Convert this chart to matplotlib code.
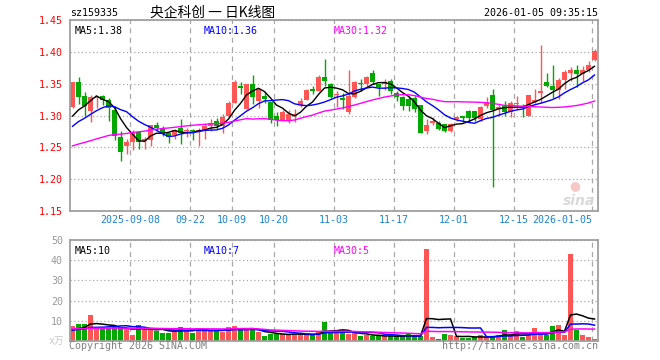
import numpy as np
import pandas as pd
import matplotlib
matplotlib.use('Agg')
import matplotlib.pyplot as plt

plt.rcParams['font.family'] = ['DejaVu Sans Mono', 'Noto Sans CJK SC']

# daily candles 2025-08-25 .. 2026-01-05
opens = [1.313, 1.352, 1.330, 1.307, 1.327, 1.331, 1.324, 1.309, 1.267, 1.252,
         1.258, 1.274, 1.260, 1.262, 1.285, 1.281, 1.273, 1.270, 1.280, 1.275,
         1.277, 1.275, 1.276, 1.284, 1.292, 1.283, 1.299, 1.319, 1.347, 1.310,
         1.349, 1.323, 1.331, 1.321, 1.299, 1.292, 1.292, 1.300, 1.316, 1.325,
         1.341, 1.338, 1.360, 1.350, 1.332, 1.327, 1.306, 1.329, 1.350, 1.350,
         1.366, 1.350, 1.350, 1.354, 1.335, 1.329, 1.326, 1.327, 1.316, 1.276,
         1.288, 1.288, 1.286, 1.276, 1.295, 1.299, 1.307, 1.307, 1.294, 1.315,
         1.332, 1.310, 1.315, 1.305, 1.318, 1.313, 1.300, 1.321, 1.336, 1.353,
         1.346, 1.340, 1.356, 1.366, 1.371, 1.3645, 1.371, 1.387]
highs = [1.353, 1.360, 1.337, 1.332, 1.330, 1.332, 1.328, 1.315, 1.275, 1.263,
         1.277, 1.274, 1.267, 1.285, 1.290, 1.284, 1.273, 1.279, 1.294, 1.281,
         1.279, 1.280, 1.286, 1.294, 1.296, 1.302, 1.323, 1.355, 1.353, 1.349,
         1.363, 1.341, 1.337, 1.321, 1.306, 1.308, 1.308, 1.310, 1.327, 1.341,
         1.346, 1.363, 1.388, 1.351, 1.339, 1.336, 1.371, 1.354, 1.358, 1.362,
         1.371, 1.350, 1.357, 1.357, 1.339, 1.330, 1.331, 1.331, 1.317, 1.294,
         1.297, 1.292, 1.287, 1.289, 1.300, 1.300, 1.309, 1.307, 1.315, 1.329,
         1.341, 1.316, 1.323, 1.323, 1.330, 1.318, 1.332, 1.341, 1.411, 1.367,
         1.379, 1.359, 1.371, 1.376, 1.379, 1.3775, 1.385, 1.405]
lows = [1.312, 1.318, 1.300, 1.290, 1.311, 1.316, 1.292, 1.262, 1.229, 1.240,
        1.246, 1.248, 1.247, 1.252, 1.278, 1.268, 1.257, 1.263, 1.255, 1.266,
        1.262, 1.252, 1.263, 1.276, 1.279, 1.273, 1.297, 1.319, 1.333, 1.310,
        1.318, 1.312, 1.320, 1.289, 1.284, 1.292, 1.289, 1.290, 1.313, 1.324,
        1.333, 1.338, 1.346, 1.328, 1.313, 1.310, 1.302, 1.327, 1.338, 1.345,
        1.349, 1.331, 1.340, 1.333, 1.323, 1.308, 1.307, 1.305, 1.272, 1.271,
        1.285, 1.278, 1.274, 1.274, 1.292, 1.290, 1.290, 1.291, 1.292, 1.3125,
        1.188, 1.300, 1.299, 1.298, 1.310, 1.298, 1.300, 1.319, 1.320, 1.344,
        1.327, 1.326, 1.341, 1.354, 1.344, 1.354, 1.368, 1.385]
closes = [1.352, 1.329, 1.315, 1.329, 1.329, 1.325, 1.311, 1.268, 1.243, 1.259,
          1.273, 1.259, 1.263, 1.285, 1.281, 1.272, 1.267, 1.277, 1.273, 1.277,
          1.275, 1.277, 1.283, 1.289, 1.283, 1.298, 1.319, 1.352, 1.343, 1.349,
          1.329, 1.341, 1.326, 1.293, 1.293, 1.305, 1.302, 1.303, 1.323, 1.340,
          1.338, 1.361, 1.354, 1.329, 1.333, 1.325, 1.331, 1.352, 1.349, 1.360,
          1.352, 1.345, 1.353, 1.338, 1.329, 1.315, 1.315, 1.310, 1.273, 1.285,
          1.292, 1.279, 1.276, 1.287, 1.298, 1.296, 1.296, 1.296, 1.314, 1.320,
          1.309, 1.313, 1.305, 1.319, 1.319, 1.311, 1.332, 1.325, 1.339, 1.347,
          1.340, 1.356, 1.368, 1.371, 1.3645, 1.371, 1.379, 1.401]
# volume, 万手
volumes = [7.5, 8.3, 8.3, 12.8, 6.2, 6.2, 6.2, 7.2, 6.7, 6.2,
           2.8, 7.8, 6.2, 6.2, 4.8, 4.0, 4.0, 5.3, 6.8, 5.3,
           4.0, 6.5, 5.3, 5.3, 5.3, 4.3, 6.8, 7.3, 5.3, 6.2,
           5.3, 4.3, 2.3, 3.3, 3.7, 3.7, 3.2, 3.2, 3.2, 3.2,
           3.2, 4.5, 9.3, 4.5, 4.0, 5.3, 3.3, 4.0, 2.3, 2.8,
           2.3, 2.8, 2.3, 2.3, 2.3, 2.3, 3.3, 2.3, 2.3, 45.3,
           2.0, 1.2, 3.3, 2.8, 2.3, 1.5, 1.5, 2.0, 2.8, 2.0,
           2.0, 2.8, 5.3, 2.8, 4.8, 2.0, 3.0, 6.3, 3.0, 3.0,
           7.3, 7.8, 3.0, 43.3, 5.3, 3.0, 2.0, 0.8]

# 29 days before the window (only used to warm up the moving averages)
pre_close = [1.245, 1.240, 1.246, 1.242, 1.247, 1.230, 1.225, 1.222, 1.228, 1.225,
             1.228, 1.232, 1.236, 1.240, 1.238, 1.242, 1.245, 1.240, 1.243, 1.246,
             1.255, 1.262, 1.268, 1.272, 1.278, 1.280, 1.284, 1.288, 1.291]
pre_volume = [6.5, 7.0, 5.8, 6.2, 6.8, 5.5, 6.0, 7.2, 6.4, 5.9,
              6.6, 6.1, 5.7, 6.9, 6.3, 5.8, 6.0, 6.5, 6.2, 5.9,
              5.5, 6.2, 5.8, 5.4, 5.6, 4.6, 5.0, 4.4, 5.0]

tick_pos = [10, 20, 27, 34, 44, 54, 64, 74, 87]
tick_labels = ['2025-09-08', '09-22', '10-09', '10-20', '11-03',
               '11-17', '12-01', '12-15', '2026-01-05']

RED = '#ff5555'
GREEN = '#00a800'
GRID = '#a8a8a8'
SPINE = '#a0a0a0'
MONO = 7.2

n = len(closes)
x = np.arange(n)
bw = 5 / 6
xc = x + bw / 2
up = np.array(closes) >= np.array(opens)
cols = [RED if u else GREEN for u in up]

c_all = pd.Series(pre_close + closes)
v_all = pd.Series(pre_volume + volumes)
ma = {k: c_all.rolling(k).mean().to_numpy()[len(pre_close):] for k in (5, 10, 30)}
vma = {k: v_all.rolling(k).mean().to_numpy()[len(pre_volume):] for k in (5, 10, 30)}
ma_cols = {5: 'black', 10: '#0000ff', 30: '#ff00ff'}

W, H = 660, 360
fig = plt.figure(figsize=(W / 100, H / 100), dpi=100)
ax1 = fig.add_axes([70 / W, 1 - 211 / H, 528 / W, 191 / H])
ax2 = fig.add_axes([70 / W, 1 - 341 / H, 528 / W, 101 / H])

# candles
o = np.array(opens)
c = np.array(closes)
bottom = np.minimum(o, c)
height = np.maximum(np.abs(c - o), 0.0015)
ax1.vlines(xc, lows, highs, colors=cols, linewidth=1)
ax1.bar(x, height, bottom=bottom, width=bw, align='edge', color=cols, linewidth=0)
for k in (5, 10, 30):
    ax1.plot(xc, ma[k], color=ma_cols[k], linewidth=1)

# volume
ax2.bar(x, volumes, width=bw, align='edge', color=cols, linewidth=0)
for k in (5, 10, 30):
    ax2.plot(xc, vma[k], color=ma_cols[k], linewidth=1.1)

for ax in (ax1, ax2):
    ax.set_xlim(0, n)
    for s in ax.spines.values():
        s.set_color(SPINE)
        s.set_linewidth(1.3)
    ax.set_xticks(tick_pos)
    ax.tick_params(length=0)
    ax.grid(axis='x', color=GRID, linestyle=(0, (4, 3.5)), linewidth=0.9)
    ax.grid(axis='y', color=GRID, linestyle=(0, (1, 2)), linewidth=0.9)
    ax.set_axisbelow(True)

ax1.set_ylim(1.15, 1.45)
ax1.set_yticks(np.arange(1.15, 1.451, 0.05))
ax1.set_yticklabels(['%.2f' % v for v in np.arange(1.15, 1.451, 0.05)],
                    color='#ff0000', fontsize=MONO)
ax1.set_xticklabels(tick_labels, color='#1a86d0', fontsize=MONO)
ax1.get_xticklabels()[-1].set_ha('right')
ax1.tick_params(axis='x', pad=3)
ax1.tick_params(axis='y', pad=5)

ax2.set_ylim(0, 50)
ax2.set_yticks([10, 20, 30, 40, 50])
ax2.set_yticklabels(['10', '20', '30', '40', '50'], color='#999999', fontsize=MONO)
ax2.set_xticklabels([])
ax2.tick_params(axis='y', pad=5)

# text in the panels
ax1.text(0.008, 0.97, 'MA5:1.38', transform=ax1.transAxes, color='black',
         fontsize=MONO, va='top')
ax1.text(0.254, 0.97, 'MA10:1.36', transform=ax1.transAxes, color='#0000ff',
         fontsize=MONO, va='top')
ax1.text(0.5, 0.97, 'MA30:1.32', transform=ax1.transAxes, color='#ff00ff',
         fontsize=MONO, va='top')
ax2.text(0.008, 0.94, 'MA5:10', transform=ax2.transAxes, color='black',
         fontsize=MONO, va='top')
ax2.text(0.254, 0.94, 'MA10:7', transform=ax2.transAxes, color='#0000ff',
         fontsize=MONO, va='top')
ax2.text(0.5, 0.94, 'MA30:5', transform=ax2.transAxes, color='#ff00ff',
         fontsize=MONO, va='top')

# sina watermark
ax1.text(0.955, 0.135, '\u25cf', transform=ax1.transAxes, color='#f6c8c8',
         fontsize=9, ha='center', va='center', family='DejaVu Sans')
ax1.text(0.995, 0.05, 'sina', transform=ax1.transAxes, color='#d9d9d9',
         fontsize=10, fontweight='bold', style='italic', ha='right', va='center',
         family='DejaVu Sans')

# header / footer
fig.text(70 / W, 1 - 13.5 / H, 'sz159335', color='black', fontsize=MONO, va='center')
fig.text(150 / W, 1 - 13 / H, '央企科创 一 日K线图', color='black', fontsize=9.9,
         va='center', family=['Noto Sans CJK SC'])
fig.text(598 / W, 1 - 13.5 / H, '2026-01-05 09:35:15', color='black',
         fontsize=MONO, va='center', ha='right')
fig.text(64 / W, 1 - 341 / H, 'x万', color='#c8c8c8', fontsize=7, va='center',
         ha='right')
fig.text(69 / W, 1 - 346 / H, 'Copyright 2026 SINA.COM', color='#808080',
         fontsize=MONO, va='center')
fig.text(598 / W, 1 - 346 / H, 'http://finance.sina.com.cn', color='#808080',
         fontsize=MONO, va='center', ha='right')

fig.savefig('out.png', dpi=100, facecolor='white')
